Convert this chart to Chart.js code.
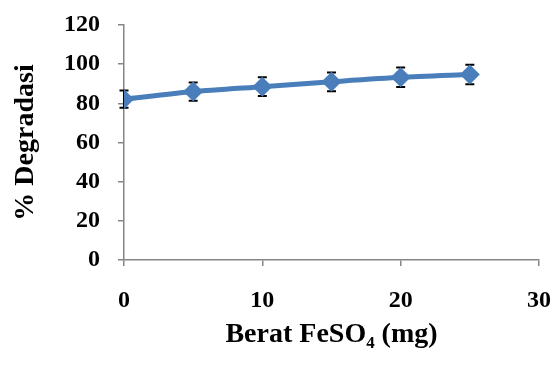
<!DOCTYPE html>
<html>
<head>
<meta charset="utf-8">
<script src="https://cdn.jsdelivr.net/npm/chart.js@4.4.1/dist/chart.umd.min.js"></script>
<style>
  html, body { margin: 0; padding: 0; background: #fff; }
  #wrap { width: 554px; height: 367px; }
</style>
</head>
<body>
<div id="wrap"><canvas id="myChart" width="554" height="367"></canvas></div>
<script>
var x_berat = [0, 5, 10, 15, 20, 25];
var y_degradasi = [82.1, 86.0, 88.5, 91.0, 93.3, 94.7];
var y_error = [4.4, 4.7, 4.8, 4.8, 5.0, 5.0];
var x_ticks = [0, 10, 20, 30];
var y_ticks = [0, 20, 40, 60, 80, 100, 120];

var axisGray = "#868686";
var lineBlue = "#4a7ebb";
var serif = "'Liberation Serif', 'Times New Roman', serif";

// error bars drawn behind the markers
var errorBars = {
  id: 'errorBars',
  beforeDatasetsDraw(chart) {
    var ctx = chart.ctx;
    var xs = chart.scales.x, ys = chart.scales.y;
    ctx.save();
    ctx.strokeStyle = "#000";
    ctx.lineWidth = 2;
    for (var i = 0; i < x_berat.length; i++) {
      var px = xs.getPixelForValue(x_berat[i]);
      var top = ys.getPixelForValue(y_degradasi[i] + y_error[i]);
      var bot = ys.getPixelForValue(y_degradasi[i] - y_error[i]);
      ctx.beginPath();
      ctx.moveTo(px, top); ctx.lineTo(px, bot);
      ctx.moveTo(px - 4.5, top); ctx.lineTo(px + 4.5, top);
      ctx.moveTo(px - 4.5, bot); ctx.lineTo(px + 4.5, bot);
      ctx.stroke();
    }
    ctx.restore();
  }
};

var chart = new Chart(document.getElementById("myChart"), {
  type: "scatter",
  data: {
    datasets: [{
      data: x_berat.map((x, i) => ({ x: x, y: y_degradasi[i] })),
      showLine: true,
      borderColor: lineBlue,
      backgroundColor: lineBlue,
      borderWidth: 5,
      pointStyle: "rectRot",
      pointRadius: 10,
      pointBorderWidth: 0,
      pointHoverRadius: 10,
      tension: 0.25
    }]
  },
  options: {
    responsive: false,
    animation: false,
    layout: { padding: { top: 25, right: 15, left: 0, bottom: 0 } },
    plugins: { legend: { display: false }, tooltip: { enabled: false } },
    scales: {
      x: {
        type: "linear",
        min: 0, max: 30,
        afterBuildTicks: s => { s.ticks = x_ticks.map(v => ({ value: v })); },
        afterFit: s => { s.height = 107; s.paddingLeft = 0; s.paddingRight = 0; },
        grid: { drawOnChartArea: false, color: axisGray, tickLength: 6, lineWidth: 1.5 },
        border: { color: axisGray, width: 1.5 },
        ticks: { color: "#000", padding: 20, maxRotation: 0, font: { family: serif, size: 24, weight: "bold" } },
        title: { display: true, text: "Berat FeSO₄ (mg)", color: "#000", padding: { top: 0, bottom: 15 }, font: { family: serif, size: 28, weight: "bold" } }
      },
      y: {
        min: 0, max: 120,
        afterBuildTicks: s => { s.ticks = y_ticks.map(v => ({ value: v })); },
        afterFit: s => { s.width = 124; s.paddingTop = 0; s.paddingBottom = 0; },
        grid: { drawOnChartArea: false, color: axisGray, tickLength: 6, lineWidth: 1.5 },
        border: { color: axisGray, width: 1.5 },
        ticks: { color: "#000", padding: 18, font: { family: serif, size: 24, weight: "bold" } },
        title: { display: true, text: "% Degradasi", color: "#000", padding: { top: 9, bottom: 0 }, font: { family: serif, size: 28, weight: "bold" } }
      }
    }
  },
  plugins: [errorBars]
});
</script>
</body>
</html>
